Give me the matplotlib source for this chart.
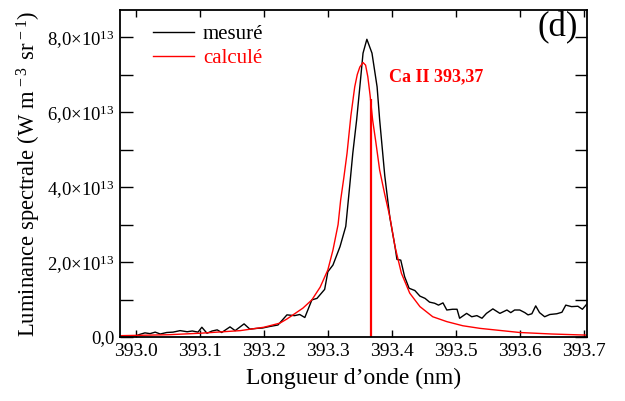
import numpy as np
import matplotlib
matplotlib.use('Agg')
import matplotlib.pyplot as plt
from matplotlib.ticker import FixedLocator, FixedFormatter

plt.rcParams['font.family'] = ['Liberation Serif', 'DejaVu Serif']
plt.rcParams['mathtext.fontset'] = 'custom'
plt.rcParams['mathtext.rm'] = 'Liberation Serif'
plt.rcParams['mathtext.it'] = 'Liberation Serif:italic'
plt.rcParams['mathtext.bf'] = 'Liberation Serif:bold'

# measured spectrum (nm, 1e13 W m-3 sr-1)
wl_mes = [392.975, 393.000, 393.006, 393.014, 393.022, 393.030, 393.038, 393.048,
          393.058, 393.069, 393.080, 393.088, 393.097, 393.103, 393.111, 393.119,
          393.127, 393.134, 393.147, 393.155, 393.169, 393.178, 393.189, 393.198,
          393.209, 393.222, 393.236, 393.248, 393.256, 393.264, 393.275, 393.283,
          393.295, 393.300, 393.308, 393.319, 393.328, 393.334, 393.339, 393.345,
          393.350, 393.355, 393.361, 393.369, 393.377, 393.381, 393.389, 393.397,
          393.405, 393.408, 393.414, 393.420, 393.427, 393.436, 393.444, 393.452,
          393.459, 393.467, 393.473, 393.480, 393.486, 393.495, 393.502, 393.506,
          393.517, 393.525, 393.533, 393.541, 393.548, 393.558, 393.569, 393.580,
          393.586, 393.592, 393.600, 393.608, 393.613, 393.619, 393.625, 393.631,
          393.639, 393.647, 393.658, 393.666, 393.672, 393.681, 393.691, 393.698,
          393.705]
lum_mes = [0.03, 0.03, 0.07, 0.11, 0.09, 0.13, 0.08, 0.12,
           0.13, 0.17, 0.14, 0.16, 0.13, 0.26, 0.10, 0.16,
           0.19, 0.12, 0.27, 0.17, 0.35, 0.21, 0.23, 0.24,
           0.28, 0.32, 0.59, 0.57, 0.60, 0.52, 0.99, 1.03,
           1.27, 1.74, 1.92, 2.41, 2.95, 4.00, 4.90, 5.79,
           6.67, 7.57, 7.94, 7.57, 6.67, 5.79, 4.30, 3.18,
           2.41, 2.07, 2.05, 1.61, 1.30, 1.24, 1.09, 1.03,
           0.93, 0.90, 0.85, 0.91, 0.72, 0.74, 0.74, 0.50,
           0.63, 0.54, 0.57, 0.50, 0.63, 0.75, 0.63, 0.72,
           0.65, 0.72, 0.72, 0.65, 0.59, 0.62, 0.83, 0.65,
           0.54, 0.60, 0.62, 0.66, 0.85, 0.81, 0.82, 0.74,
           0.88]

# calculated profile
wl_calc = [392.975, 393.050, 393.100, 393.163, 393.200, 393.225, 393.236, 393.261,
           393.275, 393.288, 393.300, 393.308, 393.316, 393.320, 393.325, 393.330,
           393.336, 393.342, 393.346, 393.350, 393.355, 393.359, 393.3625, 393.366,
           393.370, 393.375, 393.381, 393.389, 393.397, 393.405, 393.415, 393.428,
           393.444, 393.464, 393.486, 393.511, 393.538, 393.600, 393.650, 393.705]
lum_calc = [0.035, 0.06, 0.10, 0.17, 0.26, 0.37, 0.48, 0.77,
            0.99, 1.33, 1.79, 2.32, 3.00, 3.65, 4.25, 4.90,
            5.90, 6.67, 7.00, 7.20, 7.32, 7.25, 6.94, 6.45,
            5.79, 5.20, 4.45, 3.80, 3.20, 2.41, 1.70, 1.17,
            0.81, 0.54, 0.41, 0.30, 0.23, 0.12, 0.08, 0.05]

line_wl = 393.367
line_top = 6.35
line_label = 'Ca II 393,37'

xticks = [393.0, 393.1, 393.2, 393.3, 393.4, 393.5, 393.6, 393.7]
yticks = [0, 1, 2, 3, 4, 5, 6, 7, 8]
ylabels = ['0,0', '', r'2,0×10$^{13}$', '', r'4,0×10$^{13}$', '',
           r'6,0×10$^{13}$', '', r'8,0×10$^{13}$']

fig = plt.figure(figsize=(6.25, 4.01), dpi=100)
ax = fig.add_axes([0.192, 0.1596, 0.747, 0.8154])

ax.plot(wl_mes, lum_mes, color='black', lw=1.0, label='mesuré')
ax.plot(wl_calc, lum_calc, color='#ff0000', lw=1.0, label='calculé')
ax.vlines(line_wl, 0, line_top, color='#ff0000', lw=1.6)
ax.text(393.395, 6.93, line_label, color='#ff0000', fontsize=13,
        fontweight='bold', va='center', ha='left')

ax.set_xlim(392.975, 393.705)
ax.set_ylim(0, 8.72)
ax.xaxis.set_major_locator(FixedLocator(xticks))
ax.set_xticklabels(['%.1f' % t for t in xticks])
ax.yaxis.set_major_locator(FixedLocator(yticks))
ax.yaxis.set_major_formatter(FixedFormatter(ylabels))

ax.tick_params(axis='x', direction='in', length=5, width=1.0, top=True,
               labelsize=14, pad=4)
ax.tick_params(axis='y', direction='in', length=9, width=1.0, right=True,
               labelsize=13.5, pad=4)
for s in ax.spines.values():
    s.set_linewidth(1.3)

ax.set_xlabel('Longueur d’onde (nm)', fontsize=17, labelpad=6)
ax.set_ylabel(r'Luminance spectrale (W m$^{\,-3\,}$ sr$^{\,-1}$)', fontsize=16.3,
              labelpad=3)

ax.text(0.981, 0.945, '(d)', transform=ax.transAxes, fontsize=25,
        ha='right', va='center')

leg = ax.legend(loc='upper left', bbox_to_anchor=(0.053, 0.98), frameon=False,
                fontsize=15, handlelength=1.95, handletextpad=0.45,
                labelspacing=0.2, labelcolor='linecolor', borderaxespad=0.0)

fig.savefig('out.png', dpi=100)
plt.close(fig)
